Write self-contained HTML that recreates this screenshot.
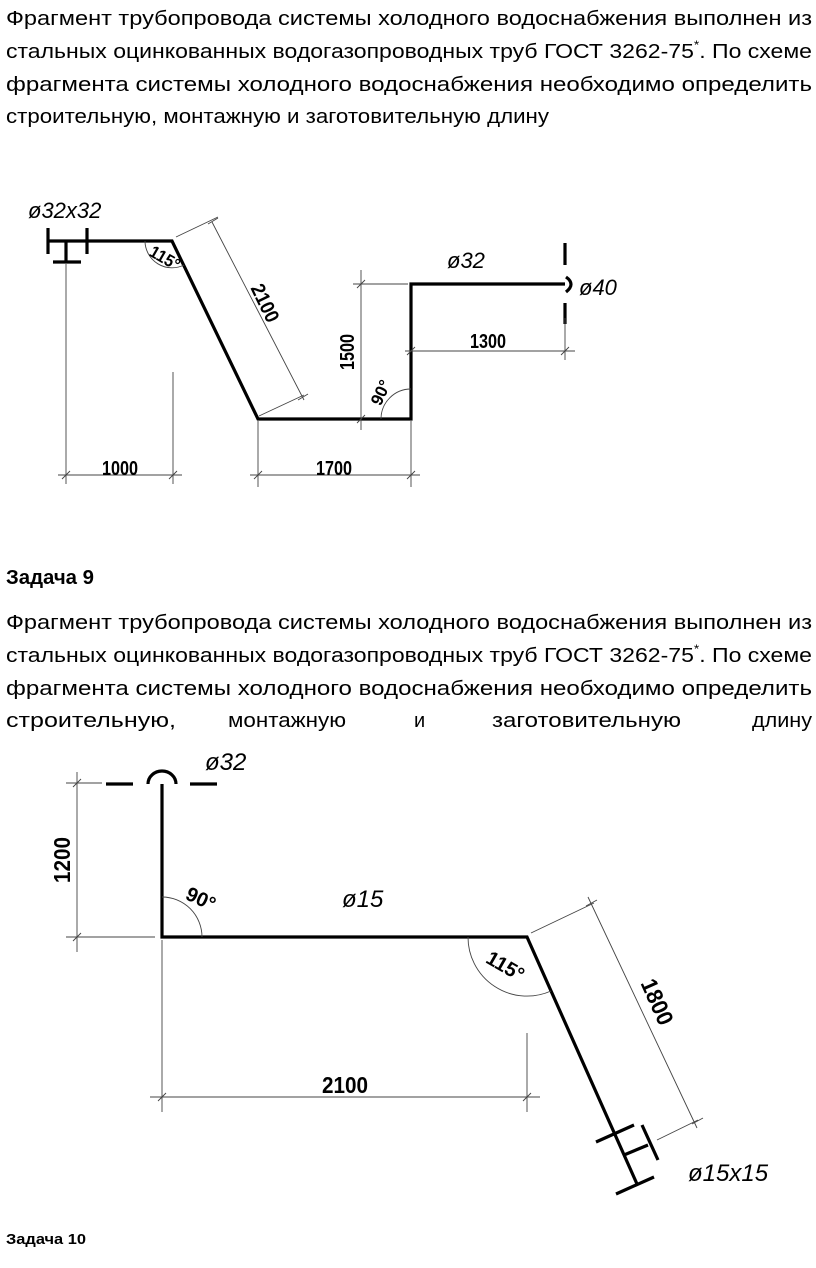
<!DOCTYPE html>
<html><head><meta charset="utf-8">
<style>
html,body{margin:0;padding:0;background:#fff;}
svg{display:block;}
.t{font-family:"Liberation Sans","Noto Sans CJK SC",sans-serif;font-size:20px;fill:#000;}
.b{font-weight:bold;}
.d{font-family:"Liberation Sans",sans-serif;font-weight:bold;font-size:20px;fill:#000;}
.i{font-family:"Liberation Sans",sans-serif;font-style:italic;font-size:22px;fill:#000;}
.p{stroke:#000;stroke-width:3.2;fill:none;stroke-linecap:butt;}
.s{stroke:#444;stroke-width:0.9;fill:none;}
</style></head>
<body>
<svg width="816" height="1268" viewBox="0 0 816 1268" xmlns="http://www.w3.org/2000/svg">
<text class="t" x="6" y="25" textLength="806" lengthAdjust="spacingAndGlyphs">Фрагмент трубопровода системы холодного водоснабжения выполнен из</text>
<text class="t" x="6" y="58" textLength="806" lengthAdjust="spacingAndGlyphs">стальных оцинкованных водогазопроводных труб ГОСТ 3262-75<tspan font-size="12" dy="-9">*</tspan><tspan dy="9">. По схеме</tspan></text>
<text class="t" x="6" y="91" textLength="806" lengthAdjust="spacingAndGlyphs">фрагмента системы холодного водоснабжения необходимо определить</text>
<text class="t" x="6" y="123" textLength="543" lengthAdjust="spacingAndGlyphs">строительную, монтажную и заготовительную длину</text>

<text class="t b" x="6" y="584" textLength="88" lengthAdjust="spacingAndGlyphs">Задача 9</text>
<text class="t" x="6" y="629" textLength="806" lengthAdjust="spacingAndGlyphs">Фрагмент трубопровода системы холодного водоснабжения выполнен из</text>
<text class="t" x="6" y="662" textLength="806" lengthAdjust="spacingAndGlyphs">стальных оцинкованных водогазопроводных труб ГОСТ 3262-75<tspan font-size="12" dy="-9">*</tspan><tspan dy="9">. По схеме</tspan></text>
<text class="t" x="6" y="695" textLength="806" lengthAdjust="spacingAndGlyphs">фрагмента системы холодного водоснабжения необходимо определить</text>
<text class="t" x="6" y="727" textLength="170" lengthAdjust="spacingAndGlyphs">строительную,</text>
<text class="t" x="228" y="727" textLength="118" lengthAdjust="spacingAndGlyphs">монтажную</text>
<text class="t" x="414" y="727">и</text>
<text class="t" x="492" y="727" textLength="189" lengthAdjust="spacingAndGlyphs">заготовительную</text>
<text class="t" x="752" y="727" textLength="60" lengthAdjust="spacingAndGlyphs">длину</text>
<text class="t b" x="6" y="1244" textLength="80" lengthAdjust="spacingAndGlyphs" style="font-size:15px">Задача 10</text>

<!-- Diagram 1 -->
<g>
<path class="p" d="M48 228V254 M87 228V254 M48 241H172 L258 419 H411 V284 H565 M66 241V262 M53 262H81"/>
<path class="p" d="M566 277 Q576 284 566 292" />
<path class="p" d="M565 243V265 M565 303V324"/>
<path class="s" d="M66 264V484 M173 372V484 M58 475H182 M258 421V487 M411 421V487 M250 475H420
 M361 270V430 M353 284H408 M405 351H575 M565 318V360
 M176 237L218 217 M259 416L304 395 M212 222L304 400"/>
<path class="s" d="M62 479L70 471 M169 479L177 471 M254 479L262 471 M407 479L415 471 M357 288L365 280 M357 423L365 415 M407 355L415 347 M561 355L569 347 M208 224L218 218 M298 400L308 394"/>
<path class="s" d="M145 241 A27 27 0 0 0 184 265"/>
<path class="s" d="M381 419 A30 30 0 0 1 411 389"/>
<text class="i" x="28" y="218">ø32x32</text>
<text class="i" x="447" y="268">ø32</text>
<text class="i" x="579" y="295">ø40</text>
<text class="d" x="102" y="475" textLength="36" lengthAdjust="spacingAndGlyphs">1000</text>
<text class="d" x="316" y="475" textLength="36" lengthAdjust="spacingAndGlyphs">1700</text>
<text class="d" x="470" y="348" textLength="36" lengthAdjust="spacingAndGlyphs">1300</text>
<text class="d" transform="translate(354,352) rotate(-90)" text-anchor="middle" textLength="36" lengthAdjust="spacingAndGlyphs">1500</text>
<text class="d" transform="translate(259,306) rotate(64)" text-anchor="middle" textLength="40" lengthAdjust="spacingAndGlyphs">2100</text>
<text class="d" transform="translate(162,263) rotate(30)" text-anchor="middle" style="font-size:17px" textLength="32" lengthAdjust="spacingAndGlyphs">115°</text>
<text class="d" transform="translate(386,395) rotate(-65)" text-anchor="middle" style="font-size:17px">90°</text>
</g>

<!-- Diagram 2 -->
<g>
<path class="p" d="M162 784V937H527L637 1184"/>
<path class="p" d="M148 784A14 13 0 0 1 176 784"/>
<path class="p" d="M106 784H133 M190 784H217"/>
<path class="p" d="M596 1142L634 1125 M616 1194L654 1177 M624 1155L648 1145 M642 1125L658 1160"/>
<path class="s" d="M66 783H102 M66 937H155 M77 772V952
 M162 940V1112 M527 1033V1112 M150 1097H540
 M531 933L594 903 M657 1140L698 1120 M588 897L697 1128"/>
<path class="s" d="M73 787L81 779 M73 941L81 933 M158 1101L166 1093 M523 1101L531 1093 M586 906L597 900 M692 1124L703 1118"/>
<path class="s" d="M162 897A40 40 0 0 1 202 937"/>
<path class="s" d="M468 937A59 59 0 0 0 551 991"/>
<text class="i" x="205" y="770" style="font-size:24px">ø32</text>
<text class="i" x="342" y="907" style="font-size:24px">ø15</text>
<text class="i" x="688" y="1181" style="font-size:24px">ø15x15</text>
<text class="d" x="322" y="1093" textLength="46" lengthAdjust="spacingAndGlyphs" style="font-size:23px">2100</text>
<text class="d" transform="translate(70,860) rotate(-90)" text-anchor="middle" textLength="46" lengthAdjust="spacingAndGlyphs" style="font-size:23px">1200</text>
<text class="d" transform="translate(650,1005) rotate(66)" text-anchor="middle" textLength="48" lengthAdjust="spacingAndGlyphs" style="font-size:23px">1800</text>
<text class="d" transform="translate(198,905) rotate(25)" text-anchor="middle" style="font-size:20px">90°</text>
<text class="d" transform="translate(502,972) rotate(30)" text-anchor="middle" style="font-size:20px">115°</text>
</g>
</svg>
</body></html>
